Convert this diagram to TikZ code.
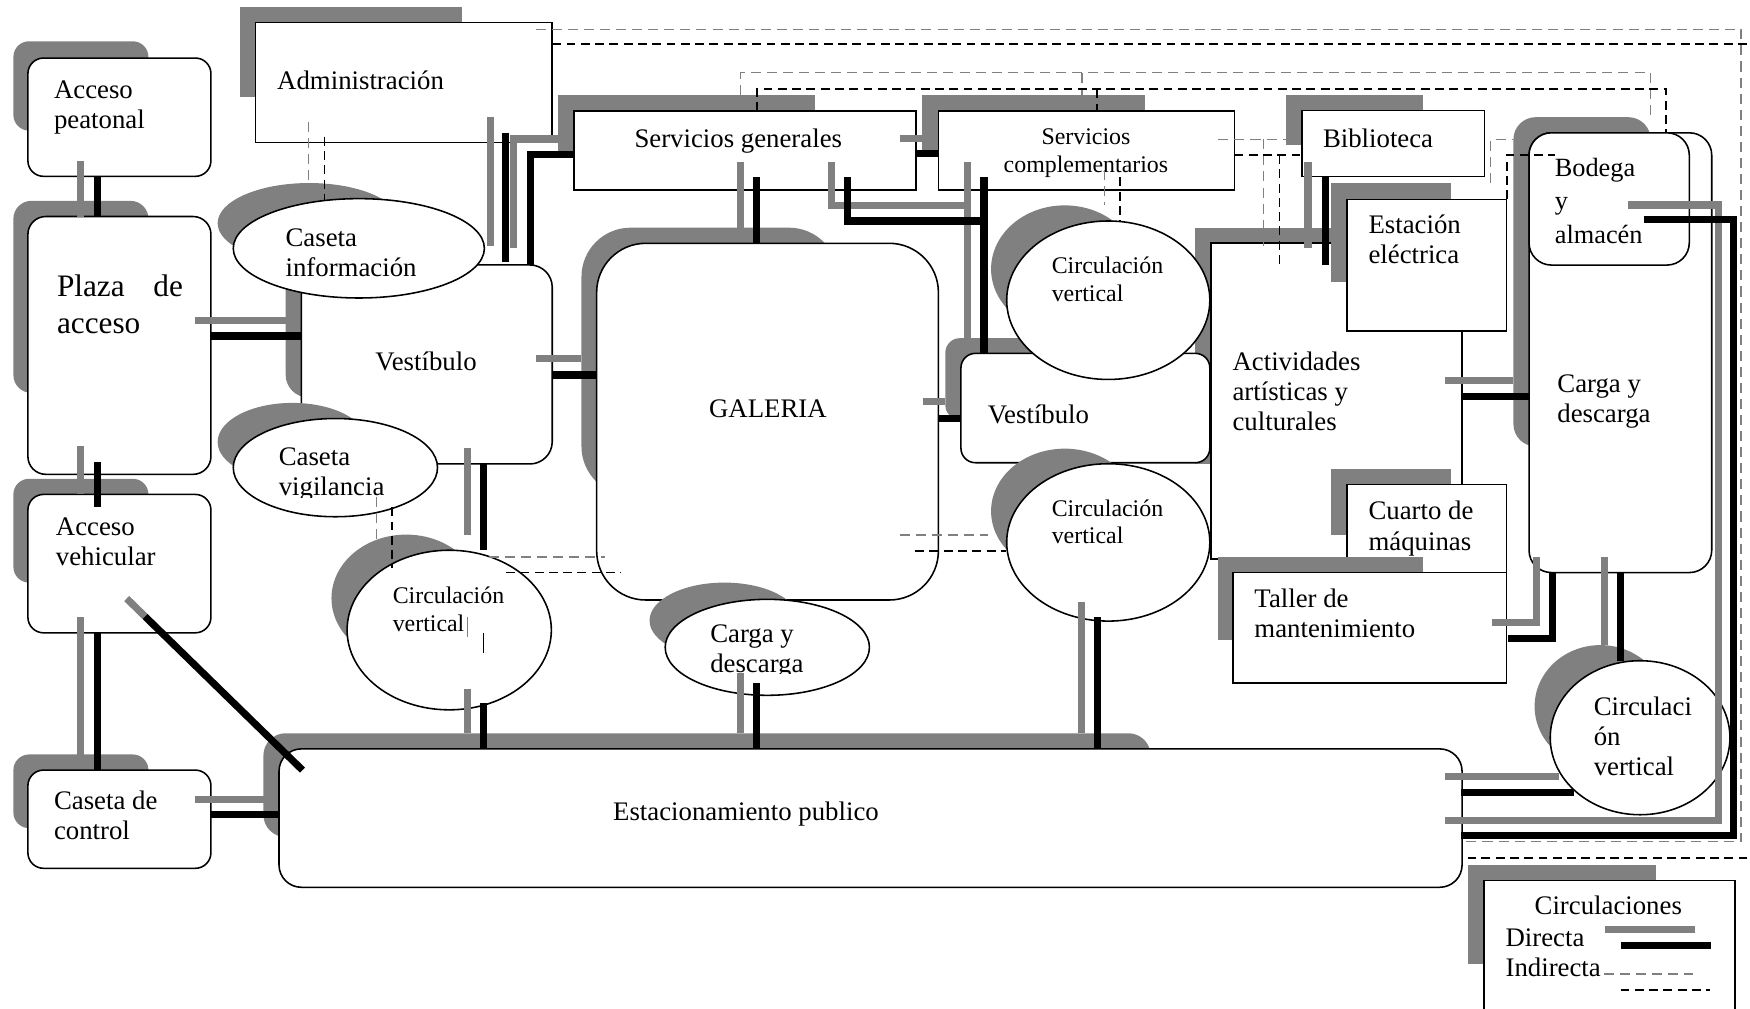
\documentclass[tikz,border=0pt]{standalone}
\usepackage{fontspec}
\setmainfont{Liberation Serif}
\definecolor{shgray}{HTML}{808080}
\begin{document}
\begin{tikzpicture}[x=0.5pt,y=-0.5pt,
  shd/.style={fill=shgray,draw=none},
  bx/.style={fill=white,draw=black,line width=0.7pt},
  gd/.style={draw=shgray,line width=3.2pt},
  bd/.style={draw=black,line width=3.2pt},
  gi/.style={draw=shgray,line width=0.6pt,dash pattern=on 4.5pt off 2.7pt},
  bi/.style={draw=black,line width=0.8pt,dash pattern=on 4pt off 2.4pt},
  stubline/.style={line width=0.6pt},
  lbl/.style={anchor=north west,inner sep=0pt,align=left,font=\fontsize{12}{13.5}\selectfont,yshift=9.45pt},
  lblc/.style={anchor=north,inner sep=0pt,align=center,font=\fontsize{12}{13.5}\selectfont,yshift=9.45pt},
  sml/.style={anchor=north west,inner sep=0pt,align=left,font=\fontsize{10.7}{12.5}\selectfont,yshift=8.75pt},
  smlc/.style={anchor=north,inner sep=0pt,align=center,font=\fontsize{10.7}{12.5}\selectfont,yshift=8.75pt},
  plz/.style={anchor=north west,inner sep=0pt,align=left,font=\fontsize{14}{16.75}\selectfont,yshift=11.725pt},
  bdg/.style={anchor=north west,inner sep=0pt,align=left,font=\fontsize{11.8}{15}\selectfont,yshift=10.5pt},
]
\useasboundingbox (0,0) rectangle (1568,904);
\fill[white] (0,0) rectangle (1568,904);

% ---------- left column ----------
\fill[shd,rounded corners=7pt] (12,37) rectangle (133,117);
\draw[bx,rounded corners=7pt] (25,52) rectangle (189,158);
\node[lbl] (tPea) at (48,88) {\strut Acceso\\peatonal};

\fill[shd,rounded corners=8pt] (12,180) rectangle (133,352);
\draw[bx,rounded corners=8pt] (25,194) rectangle (189,425);
\node[plz] (tPlz) at (50.7,265.2) {\strut\makebox[56.4pt][l]{Plaza\hfill de}\\acceso};

\fill[shd,rounded corners=7pt] (12,429) rectangle (133,522);
\draw[bx,rounded corners=7pt] (25,443) rectangle (189,567);
\node[lbl] (tVeh) at (49.7,479.7) {\strut Acceso\\vehicular};

\fill[shd,rounded corners=7pt] (12,676) rectangle (133,742);
\draw[bx,rounded corners=7pt] (25,690) rectangle (189,778);
\node[lbl] (tCon) at (48,724.6) {\strut Caseta de\\control};

% ---------- administracion / vestibulo ----------
\fill[shd] (215,6) rectangle (414,87);
\draw[bx] (229,20) rectangle (494.8,127.8);
\node[lbl] (tAdm) at (248,80) {\strut Administración};

\fill[shd,rounded corners=10pt] (256,223) rectangle (424,356);
\draw[bx,rounded corners=10pt] (270,237.4) rectangle (494.8,415.7);
\node[lbl] (tVesL) at (336,331.5) {\strut Vestíbulo};

\fill[shd] (277,200) ellipse [x radius=82,y radius=36];
\draw[bx] (321.5,222.5) ellipse [x radius=112.5,y radius=44.5];
\node[lbl] (tInf) at (255.5,220.4) {\strut Caseta\\información};

\fill[shd] (262,396) ellipse [x radius=67,y radius=35];
\draw[bx] (300.5,419) ellipse [x radius=91.5,y radius=44];
\begin{scope}
\clip (200,380) rectangle (400,445.5);
\node[lbl] (tVig) at (249.4,416.5) {\strut Caseta\\vigilancia};
\end{scope}

\fill[shd] (364,536) ellipse [x radius=67,y radius=57];
\draw[bx] (402.5,564.5) ellipse [x radius=91.5,y radius=71.5];
\node[sml] (tCv1) at (351.5,540.6) {\strut Circulación\\vertical};

% ---------- servicios ----------
\fill[shd] (500,85) rectangle (730,138);
\draw[bx] (514.3,99.5) rectangle (820.8,170);
\node[lblc] (tSG) at (661.5,131.4) {\strut Servicios generales};

\fill[shd] (826,85) rectangle (1026,138);
\draw[bx] (840.8,99.5) rectangle (1106,170);
\node[smlc] (tSC) at (973,129) {\strut Servicios\\complementarios};

\fill[shd] (1152,85) rectangle (1275,130);
\draw[bx] (1166.6,99) rectangle (1330,158);
\node[lbl] (tBib) at (1185,131.4) {\strut Biblioteca};

% ---------- galeria ----------
\fill[shd,rounded corners=22pt] (521,204) rectangle (751,444);
\draw[bx,rounded corners=22pt] (534.6,218) rectangle (840.8,537.6);
\node[lblc] (tGal) at (688,373.4) {\strut GALERIA};

\fill[shd] (649,556) ellipse [x radius=67,y radius=34];
\draw[bx] (687.5,580) ellipse [x radius=91.5,y radius=43];
\begin{scope}
\clip (590,540) rectangle (790,603.5);
\node[lbl] (tCdB) at (636,575) {\strut Carga y\\descarga};
\end{scope}

% ---------- actividades ----------
\fill[shd] (1071,204) rectangle (1240,415.5);
\draw[bx] (1085,217.5) rectangle (1310,501);
\node[lbl] (tAct) at (1104,331.5) {\strut Actividades\\artísticas y\\culturales};

\fill[shd,rounded corners=6.5pt] (847,303) rectangle (1014,376);
\draw[bx,rounded corners=6.5pt] (861,316.6) rectangle (1084,414.6);
\node[lbl] (tVesR) at (884.7,379.3) {\strut Vestíbulo};

\fill[shd] (954,241) ellipse [x radius=66,y radius=57];
\draw[bx] (993,269) ellipse [x radius=91,y radius=71];
\node[sml] (tCv2) at (942,245) {\strut Circulación\\vertical};

\fill[shd] (954,458) ellipse [x radius=66,y radius=56];
\draw[bx] (993,486) ellipse [x radius=91,y radius=70.5];
\node[sml] (tCv3) at (942,462) {\strut Circulación\\vertical};

\fill[shd] (1193,164) rectangle (1300,253);
\draw[bx] (1207,178.7) rectangle (1350,296.6);
\node[lbl] (tEst) at (1225.8,209) {\strut Estación\\eléctrica};

\fill[shd] (1193,420) rectangle (1300,479);
\draw[bx] (1207,434) rectangle (1350,513);
\node[lbl] (tCua) at (1225.8,465.4) {\strut Cuarto de\\máquinas};

\fill[shd] (1091,499) rectangle (1275,573);
\draw[bx] (1105,513) rectangle (1350,612);
\node[lbl] (tTal) at (1123.6,543.6) {\strut Taller de\\mantenimiento};

% ---------- carga / bodega ----------
\fill[shd,rounded corners=10pt] (1356,105) rectangle (1479,400);
\draw[bx,rounded corners=10pt] (1370,119) rectangle (1533.7,513);
\node[lbl] (tCdR) at (1395,351) {\strut Carga y\\descarga};
\draw[bx,rounded corners=10pt] (1370,119) rectangle (1513.6,237.5);
\node[bdg] (tBod) at (1392.7,157.5) {\strut Bodega\\y\\almacén};

\fill[shd] (1434,633) ellipse [x radius=59,y radius=55];
\draw[bx] (1469.5,661) ellipse [x radius=80.5,y radius=69];
\node[lbl] (tCv4) at (1427.6,640.7) {\strut Circulaci\\ón\\vertical};

% ---------- estacionamiento ----------
\fill[shd,rounded corners=10pt] (236,657) rectangle (1031,750);
\draw[bx,rounded corners=10pt] (250,671) rectangle (1310,795);
\node[lbl] (tEsc) at (549,735) {\strut Estacionamiento publico};

% ---------- legend ----------
\fill[shd] (1315,775) rectangle (1484,864);
\draw[bx] (1329.5,789) rectangle (1554.6,912);
\node[lblc] (tLeg) at (1441,819.4) {\strut Circulaciones};
\node[lbl] (tDir) at (1348.6,847.4) {\strut Directa};
\node[lbl] (tInd) at (1348.6,874.6) {\strut Indirecta};

% ---------- indirect (dashed) ----------
\draw[gi] (276.4,109) -- (276.4,164);
\draw[bi] (290.8,122.5) -- (290.8,179);
\draw[gi] (337.5,445) -- (337.5,483);
\draw[bi] (351.5,454.5) -- (351.5,509);
\draw[gi] (438,499) -- (542,499);
\draw[bi] (453.4,513) -- (556,513);
\draw[gi] (806,479.4) -- (885,479.4);
\draw[bi] (820,493.4) -- (901.5,493.4);
\draw[gi] (989.5,152) -- (989.5,184);
\draw[bi] (1003.6,159) -- (1003.6,198);
\draw[gi] (1091.6,124.8) -- (1153,124.8);
\draw[gi] (1132,124.8) -- (1132,223);
\draw[bi] (1106,138.9) -- (1166,138.9);
\draw[bi] (1146.4,138.9) -- (1146.4,237.5);
\draw[gi] (1335.7,163.7) -- (1335.7,124.8) -- (1356,124.8);
\draw[bi] (1350,178.6) -- (1350,139) -- (1393,139);
\draw[gi] (663.7,85) -- (663.7,65) -- (1478.6,65) -- (1478.6,105);
\draw[gi] (969.6,65) -- (969.6,85);
\draw[bi] (678,99.5) -- (678,80) -- (1493,80) -- (1493,119);
\draw[bi] (983,80) -- (983,99.5);
\draw[gi] (480,26.3) -- (1560,26.3) -- (1560,754) -- (1311.7,754);
\draw[bi] (494.8,39.7) -- (1600,39.7) -- (1600,769) -- (1315,769);
\draw[gi] (1437,872.6) -- (1517,872.6);
\draw[bi] (1452,887) -- (1532,887);

% ---------- direct, gray ----------
\draw[gd] (72.5,144) -- (72.5,194);
\draw[gd] (72.5,400) -- (72.5,443);
\draw[gd] (72.5,553) -- (72.5,680);
\draw[gd] (113.5,536.3) -- (130,552.4);
\draw[gd] (175,716) -- (237,716);
\draw[gd] (175,287) -- (256,287);
\draw[gd] (439.6,104.5) -- (439.6,220);
\draw[gd] (500,124.5) -- (460,124.5) -- (460,222);
\draw[gd] (419,401) -- (419,479);
\draw[gd] (419,617) -- (419,657);
\draw[gd] (480,321.5) -- (521,321.5);
\draw[gd] (663.5,145) -- (663.5,204);
\draw[gd] (663.5,603) -- (663.5,657);
\draw[gd] (806,124) -- (826,124);
\draw[gd] (745,145) -- (745,184) -- (867,184);
\draw[gd] (867,145) -- (867,303);
\draw[gd] (826.7,360) -- (847,360);
\draw[gd] (969,539) -- (969,657);
\draw[gd] (1172,145) -- (1172,222.5);
\draw[gd] (1295,341) -- (1356,341);
\draw[gd] (1459,183.7) -- (1539.5,183.7) -- (1539.5,735) -- (1295,735);
\draw[gd] (1337,557.5) -- (1376.5,557.5) -- (1376.5,499);
\draw[gd] (1437.8,499) -- (1437.8,578);
\draw[gd] (1295,695.5) -- (1397,695.5);
\draw[gd] (1438,833) -- (1519,833);

% ---------- direct, black ----------
\draw[bd] (87,158) -- (87,194);
\draw[bd] (87,414) -- (87,454);
\draw[bd] (87,567) -- (87,690);
\draw[bd] (130,552.4) -- (271,690);
\draw[bd] (189,730) -- (250,730);
\draw[bd] (189,301) -- (270,301);
\draw[bd] (453.3,119.5) -- (453.3,234.5);
\draw[bd] (514.3,138.5) -- (475,138.5) -- (475,237.4);
\draw[bd] (433,415) -- (433,493);
\draw[bd] (433,630) -- (433,671);
\draw[bd] (494.8,336) -- (534.6,336);
\draw[bd] (678,159) -- (678,218);
\draw[bd] (678,612) -- (678,671);
\draw[bd] (820.8,137.4) -- (840.8,137.4);
\draw[bd] (759.5,159) -- (759.5,198) -- (881.7,198);
\draw[bd] (881.7,159) -- (881.7,316.6);
\draw[bd] (840.6,374.6) -- (861,374.6);
\draw[bd] (983.3,553) -- (983.3,671);
\draw[bd] (1187.3,159) -- (1187.3,237);
\draw[bd] (1310,355.4) -- (1370,355.4);
\draw[bd] (1473,197) -- (1553,197) -- (1553,748.6) -- (1309,748.6);
\draw[bd] (1351,572) -- (1391,572) -- (1391,513);
\draw[bd] (1452,513) -- (1452,592);
\draw[bd] (1309,710) -- (1410,710);
\draw[bd] (1452,847.5) -- (1533,847.5);

% ---------- small stubs ----------
\draw[stubline,shgray] (419,553) -- (419,571);
\draw[stubline,black] (433,567) -- (433,585);
\end{tikzpicture}
\end{document}
